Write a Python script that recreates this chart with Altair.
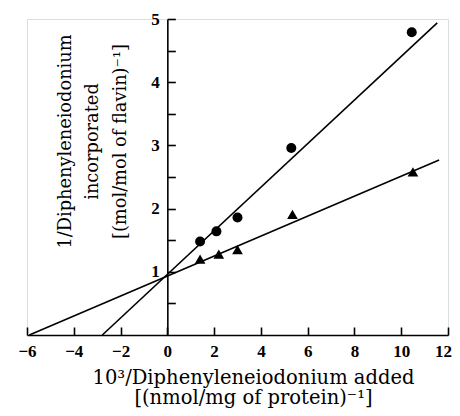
import altair as alt
import pandas as pd

# data
circle_x = [1.4, 2.1, 3.0, 5.3, 10.45]
circle_y = [1.48, 1.64, 1.86, 2.96, 4.79]
tri_x = [1.4, 2.2, 3.0, 5.35, 10.5]
tri_y = [1.2, 1.28, 1.35, 1.91, 2.58]
circle_fit_x = [-2.78, 11.54]
circle_fit_y = [0.0, 4.94]
tri_fit_x = [-5.9, 11.62]
tri_fit_y = [0.0, 2.77]
x_ticks = [-6, -4, -2, 0, 2, 4, 6, 8, 10, 12]
y_labels = [1, 2, 3, 4, 5]
y_ticks = [0.5, 1, 1.5, 2, 2.5, 3, 3.5, 4, 4.5, 5]
x_title = ["10³/Diphenyleneiodonium added", "[(nmol/mg of protein)⁻¹]"]
y_title = ["1/Diphenyleneiodonium", "incorporated", "[(mol/mol of flavin)⁻¹]"]

W, H = 421, 316
NUM_FONT = "Liberation Serif"
TXT_FONT = "DejaVu Serif"

circles = pd.DataFrame({"x": circle_x, "y": circle_y})
tris = pd.DataFrame({"x": tri_x, "y": tri_y})
cfit = pd.DataFrame({"x": circle_fit_x, "y": circle_fit_y})
tfit = pd.DataFrame({"x": tri_fit_x, "y": tri_fit_y})

xs = alt.Scale(domain=[-6, 12], nice=False, zero=False)
ys = alt.Scale(domain=[0, 5], nice=False, zero=False)

y_offset = -W * (0 - (-6)) / 18.0
y_offset_r = -W * (12 - 0) / 18.0

line_c = alt.Chart(cfit).mark_line(color="black", strokeWidth=1.6).encode(
    x=alt.X("x:Q", scale=xs, axis=None), y=alt.Y("y:Q", scale=ys, axis=None))
line_t = alt.Chart(tfit).mark_line(color="black", strokeWidth=1.6).encode(
    x=alt.X("x:Q", scale=xs, axis=None), y=alt.Y("y:Q", scale=ys, axis=None))

pts_c = alt.Chart(circles).mark_point(shape="circle", filled=True, color="black", size=100, opacity=1).encode(
    x=alt.X("x:Q", scale=xs, axis=alt.Axis(
        orient="bottom", values=x_ticks, ticks=False, domain=True, domainColor="black",
        domainWidth=1.6, grid=False, format="d", labelFont=NUM_FONT, labelFontSize=17,
        labelFontWeight="bold", labelColor="black", labelPadding=8, labelFlush=False,
        labelOffset={"condition": {"test": "datum.value == 12", "value": -5}, "value": 0},
        title=x_title, titleFont=TXT_FONT, titleFontSize=19.5, titleFontWeight="normal",
        titleColor="black", titleLineHeight=20, titleBaseline="middle",
        titleAlign="center", titleX=226, titleY=42)),
    y=alt.Y("y:Q", scale=ys, axis=alt.Axis(
        orient="left", offset=y_offset, values=y_labels, ticks=False, domain=True,
        domainColor="black", domainWidth=1.6, grid=False, format="d", labelFont=NUM_FONT,
        labelFontSize=17, labelFontWeight="bold", labelColor="black", labelPadding=8,
        labelFlush=False, title=y_title, titleFont=TXT_FONT, titleFontSize=17.8,
        titleFontWeight="normal", titleColor="black", titleLineHeight=27.5,
        titleBaseline="middle", titleAlign="center", titleAngle=270,
        titleX=-102, titleY=122)),
)

pts_t = alt.Chart(tris).mark_point(shape="triangle-up", filled=True, color="black", size=115, opacity=1).encode(
    x=alt.X("x:Q", scale=xs, axis=alt.Axis(
        orient="top", offset=-H, values=x_ticks, labels=False, domain=False, grid=False,
        ticks=True, tickSize=8, tickWidth=1.6, tickColor="black", title=None)),
    y=alt.Y("y:Q", scale=ys, axis=alt.Axis(
        orient="right", offset=y_offset_r, values=y_ticks, labels=False, domain=False,
        grid=False, ticks=True, tickSize=8, tickWidth=1.6, tickColor="black", title=None)),
)

chart = alt.layer(line_c, line_t, pts_c, pts_t).resolve_axis(
    x="independent", y="independent"
).properties(
    width=W, height=H,
    autosize=alt.AutoSizeParams(type="none"),
    padding={"left": 19, "top": 11, "right": 4, "bottom": 73},
).configure_view(stroke=None).configure(background="white")

chart.save("out.html", embed_options={"renderer": "svg", "actions": False})
